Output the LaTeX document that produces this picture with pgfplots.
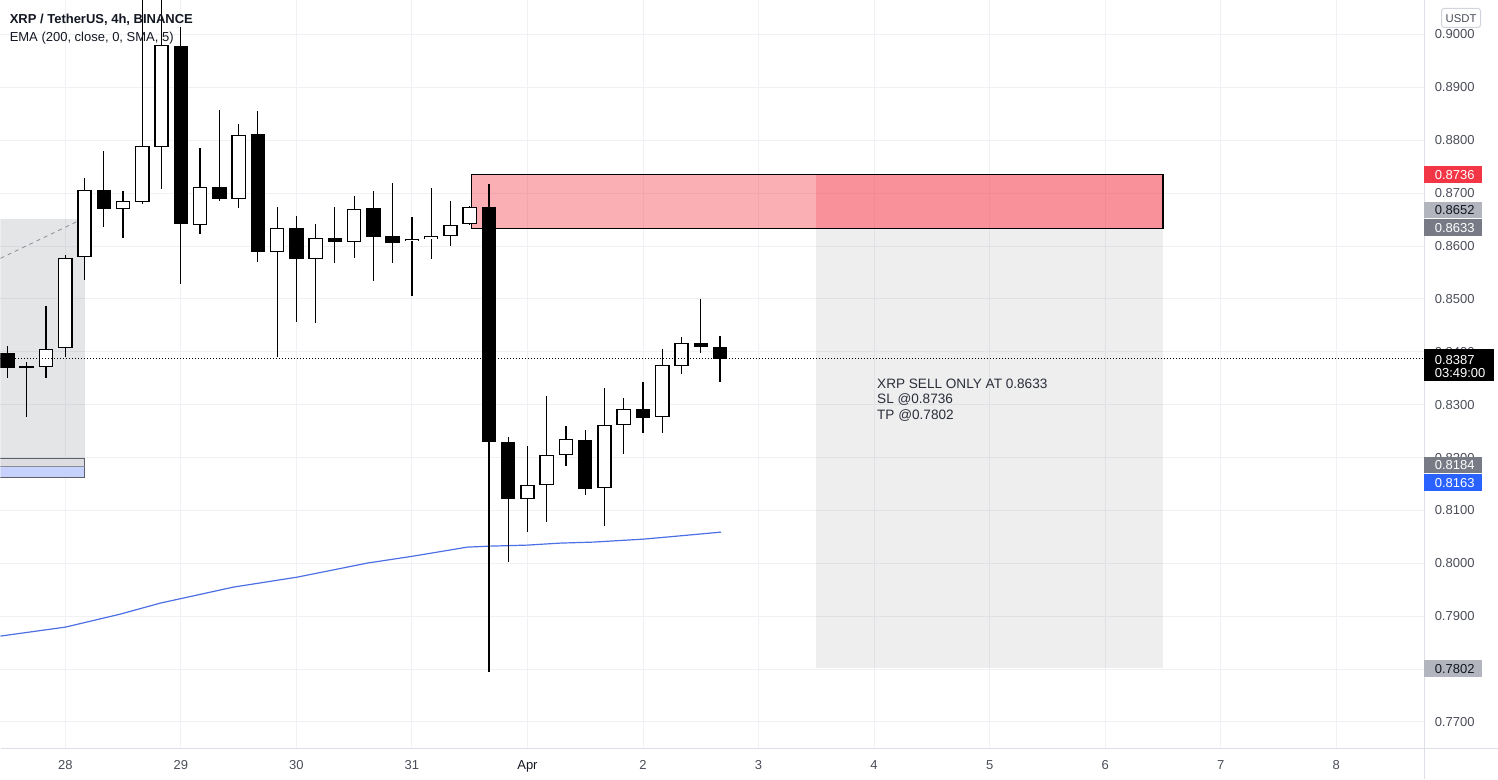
\documentclass[border=0pt]{standalone}
\usepackage{pgfplots}
\pgfplotsset{compat=1.18}
\usepackage{pgfplotstable}
\usepackage{fontspec}
\setmainfont{Liberation Sans}

\definecolor{tvgrid}{HTML}{F0F1F4}
\definecolor{tvsep}{HTML}{DCDFE6}
\definecolor{tvtext}{HTML}{4A4D57}
\definecolor{tvdark}{HTML}{131722}
\definecolor{tvred}{HTML}{F23645}
\definecolor{tvgray}{HTML}{787B86}
\definecolor{tvlight}{HTML}{B2B5BE}
\definecolor{tvblue}{HTML}{2962FF}
\definecolor{ema}{HTML}{4C6FE3}
\definecolor{boxgray}{HTML}{DCDCE1}
\definecolor{boxblue}{HTML}{C6D2FB}
\definecolor{boxedge}{HTML}{5D606B}
\definecolor{dashgray}{HTML}{8A8D96}
\definecolor{notetext}{HTML}{2A2E39}
\definecolor{usdtedge}{HTML}{D1D4DC}

% 4h candles, x = candle index (0 = 28th 00:00)
\pgfplotstableread{
i  o       h       l       c
-3 0.83972 0.84104 0.83500 0.83689
-2 0.83727 0.83802 0.82763 0.83689
-1 0.83708 0.84860 0.83500 0.84048
0  0.84067 0.85824 0.83897 0.85767
1  0.85786 0.87279 0.85352 0.87052
2  0.87052 0.87789 0.86353 0.86693
3  0.86693 0.87033 0.86145 0.86844
4  0.86825 0.90830 0.86788 0.87884
5  0.87865 0.90790 0.87071 0.89792
6  0.89792 0.90151 0.85276 0.86410
7  0.86391 0.87846 0.86221 0.87109
8  0.87109 0.88564 0.86844 0.86882
9  0.86882 0.88299 0.86712 0.88091
10 0.88110 0.88550 0.85692 0.85881
11 0.85881 0.86731 0.83897 0.86334
12 0.86334 0.86561 0.84558 0.85748
13 0.85748 0.86410 0.84539 0.86145
14 0.86145 0.86731 0.85673 0.86070
15 0.86070 0.86939 0.85767 0.86693
16 0.86712 0.87033 0.85333 0.86164
17 0.86183 0.87184 0.85673 0.86051
18 0.86089 0.86542 0.85049 0.86135
19 0.86126 0.87090 0.85748 0.86183
20 0.86183 0.86844 0.85994 0.86391
21 0.86410 0.86750 0.86400 0.86731
22 0.86731 0.87166 0.77944 0.82290
23 0.82290 0.82385 0.80023 0.81213
24 0.81213 0.82215 0.80590 0.81478
25 0.81478 0.83160 0.80779 0.82045
26 0.82045 0.82593 0.81837 0.82347
27 0.82328 0.82517 0.81289 0.81402
28 0.81421 0.83311 0.80703 0.82612
29 0.82612 0.83122 0.82064 0.82914
30 0.82914 0.83424 0.82460 0.82744
31 0.82763 0.84048 0.82460 0.83745
32 0.83727 0.84274 0.83575 0.84161
33 0.84161 0.84993 0.83972 0.84085
34 0.84085 0.84293 0.83424 0.83859
}\candles

\pgfplotsset{candle/.style={draw=none, no markers,
  error bars/.cd, y dir=both, y explicit, error mark=none}}

\begin{document}
\begin{tikzpicture}[px/.style={x=0.75pt,y=-0.75pt,shift={(0pt,561pt)}}]
\begin{scope}[px]
  \useasboundingbox (0,0) rectangle (1498,779);
\end{scope}

\begin{axis}[
  at={(0,0)}, anchor=south west,
  width=1068.75pt, height=561pt, scale only axis,
  xmin=-3.363, xmax=70.58, ymin=0.765079, ymax=0.906425,
  axis line style={draw=none}, tick style={draw=none},
  major tick length=0pt,
  grid=major, major grid style={tvgrid, line width=0.75pt},
  xtick={0,6,12,18,24,30,36,42,48,54,60,66},
  xticklabels={28,29,30,31,\textcolor{tvdark}{Apr},2,3,4,5,6,7,8},
  xticklabel style={font=\fontsize{9.75}{11}\selectfont, text=tvtext, anchor=base, inner sep=0pt, yshift=-16.5pt},
  ytick={0.77,0.78,0.79,0.80,0.81,0.82,0.83,0.84,0.85,0.86,0.87,0.88,0.89,0.90},
  yticklabels={0.7700,0.7800,0.7900,0.8000,0.8100,0.8200,0.8300,0.8400,0.8500,0.8600,0.8700,0.8800,0.8900,0.9000},
  yticklabel pos=right,
  yticklabel style={font=\fontsize{9.75}{11}\selectfont, text=tvtext, anchor=west, inner sep=0pt, xshift=7.5pt},
]
% left long-position zone
\addplot[fill=tvgray, fill opacity=0.2, draw=none] coordinates {(-3.5,0.81988)(1.0,0.81988)(1.0,0.8652)(-3.5,0.8652)} -- cycle;
\addplot[fill=boxgray, draw=none] coordinates {(-3.5,0.81837)(1.0,0.81837)(1.0,0.81988)(-3.5,0.81988)} -- cycle;
\addplot[fill=boxblue, draw=none] coordinates {(-3.5,0.81629)(1.0,0.81629)(1.0,0.81837)(-3.5,0.81837)} -- cycle;
\addplot[draw=boxedge, line width=0.75pt] coordinates {(-3.5,0.81988)(1.0,0.81988)(1.0,0.81629)(-3.5,0.81629)};
\addplot[draw=dashgray, line width=0.6pt] coordinates {(-3.5,0.81837)(1.0,0.81837)};
\addplot[draw=dashgray, line width=0.6pt, dash pattern=on 3pt off 3pt] coordinates {(-3.363,0.85767)(0.63,0.86466)};

% short position tool
\addplot[fill=tvgray, fill opacity=0.13, draw=none] coordinates {(39,0.7802)(57,0.7802)(57,0.8633)(39,0.8633)} -- cycle;
\addplot[fill=tvred, fill opacity=0.25, draw=none] coordinates {(39,0.8633)(57,0.8633)(57,0.8736)(39,0.8736)} -- cycle;
% supply rectangle
\addplot[fill=tvred, fill opacity=0.4, draw=black, line width=0.8pt] coordinates {(21.07,0.8633)(57,0.8633)(57,0.8736)(21.07,0.8736)} -- cycle;

% EMA 200
\addplot[ema, line width=0.9pt] coordinates {
(-3.363,0.78624)(0.01,0.78794)(2.865,0.79040)(4.94,0.79248)(8.73,0.79550)
(12.05,0.79739)(15.68,0.80004)(18.07,0.80136)(20.87,0.80306)(22.07,0.80325)
(23.98,0.80344)(25.70,0.80382)(27.41,0.80401)(30.01,0.80457)(31.77,0.80514)(34.05,0.80590)
};

% wicks
\addplot[candle, error bar style={draw=black, line width=0.9pt}]
  table[x=i, y expr={(\thisrow{h}+\thisrow{l})/2}, y error expr={(\thisrow{h}-\thisrow{l})/2}] {\candles};
% bodies (outline / bearish fill)
\addplot[candle, error bar style={draw=black, line width=10.9pt}]
  table[x=i, y expr={(\thisrow{o}+\thisrow{c})/2}, y error expr={max(abs(\thisrow{c}-\thisrow{o})/2,0.0001)}] {\candles};
% bullish fill
\addplot[candle, error bar style={draw=white, line width=8.9pt}]
  table[x=i, y expr={(\thisrow{o}+\thisrow{c})/2}, y error expr={max((\thisrow{c}-\thisrow{o})/2-0.00018,0)}] {\candles};

% last price line
\addplot[black, line width=0.75pt, dash pattern=on 0.75pt off 1.5pt] coordinates {(-3.363,0.8387)(70.58,0.8387)};
\end{axis}

\begin{scope}[px]
  % scale separators
  \draw[tvsep, line width=0.75pt] (1424.5,0) -- (1424.5,779);
  \draw[tvsep, line width=0.75pt] (0,748.5) -- (1498,748.5);
  % legend texts
  \node[anchor=base west, inner sep=0pt, text=tvdark, font=\fontsize{9.75}{11}\selectfont\bfseries] at (9,23) {XRP / TetherUS, 4h, BINANCE};
  \node[anchor=base west, inner sep=0pt, text=tvdark, font=\fontsize{9.75}{11}\selectfont] at (9,41) {EMA (200, close, 0, SMA, 5)};
  % note
  \node[anchor=base west, inner sep=0pt, text=notetext, font=\fontsize{10.2}{11.6}\selectfont] at (877,388) {XRP SELL ONLY AT 0.8633};
  \node[anchor=base west, inner sep=0pt, text=notetext, font=\fontsize{10.2}{11.6}\selectfont] at (877,403.5) {SL @0.8736};
  \node[anchor=base west, inner sep=0pt, text=notetext, font=\fontsize{10.2}{11.6}\selectfont] at (877,419) {TP @0.7802};
  % USDT
  \draw[usdtedge, fill=white, rounded corners=2pt, line width=0.75pt] (1442,8) rectangle (1481,27);
  \node[anchor=base, inner sep=0pt, text=tvtext, font=\fontsize{8.5}{10}\selectfont] at (1461.5,22) {USDT};
  % price tags
  \fill[tvred] (1424,166) rectangle (1482,183);
  \node[anchor=base west, inner sep=0pt, text=white, font=\fontsize{9.75}{11}\selectfont] at (1435,179) {0.8736};
  \fill[tvlight] (1424,202) rectangle (1482,218);
  \node[anchor=base west, inner sep=0pt, text=tvdark, font=\fontsize{9.75}{11}\selectfont] at (1435,214.5) {0.8652};
  \fill[tvgray] (1424,219) rectangle (1482,236);
  \node[anchor=base west, inner sep=0pt, text=white, font=\fontsize{9.75}{11}\selectfont] at (1435,232) {0.8633};
  \fill[black] (1424,349) rectangle (1494,381);
  \node[anchor=base west, inner sep=0pt, text=white, font=\fontsize{9.75}{11}\selectfont] at (1435,364) {0.8387};
  \node[anchor=base west, inner sep=0pt, text=white, font=\fontsize{9.75}{11}\selectfont] at (1435,377.5) {03:49:00};
  \fill[tvgray] (1424,457) rectangle (1482,473);
  \node[anchor=base west, inner sep=0pt, text=white, font=\fontsize{9.75}{11}\selectfont] at (1435,469.5) {0.8184};
  \fill[tvblue] (1424,474) rectangle (1482,491);
  \node[anchor=base west, inner sep=0pt, text=white, font=\fontsize{9.75}{11}\selectfont] at (1435,487) {0.8163};
  \fill[tvlight] (1424,660) rectangle (1482,677);
  \node[anchor=base west, inner sep=0pt, text=tvdark, font=\fontsize{9.75}{11}\selectfont] at (1435,673) {0.7802};
\end{scope}
\end{tikzpicture}
\end{document}
